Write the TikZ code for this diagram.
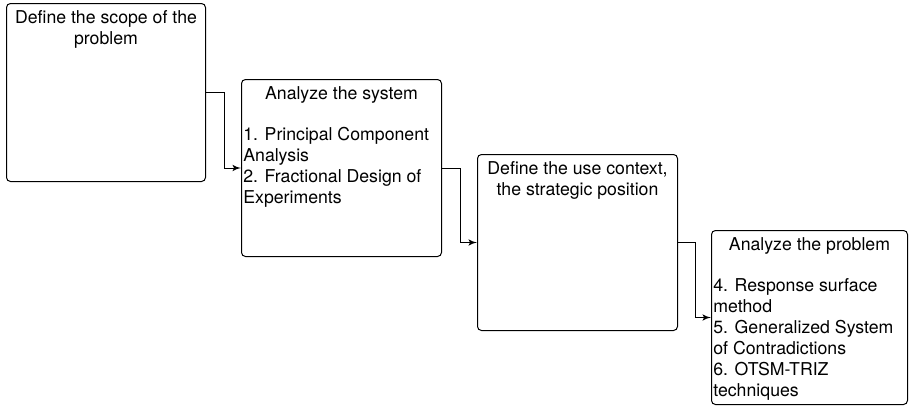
\documentclass[tikz,border=0pt]{standalone}
\usepackage{fontspec}
\setmainfont{TeX Gyre Heros}
\usetikzlibrary{arrows, positioning, calc}

\begin{document}
\begin{tikzpicture}[
    x=0.5pt, y=-0.5pt,
    stagebox/.style={rectangle, draw, line width=0.5pt, rounded corners=2pt, minimum width=100pt, minimum height=88.5pt, anchor=north west, inner sep=0pt},
    title/.style={anchor=north, align=center, inner sep=0pt, yshift=-2.45pt, font=\fontsize{8.85}{10.5}\selectfont},
    steps/.style={anchor=north west, align=left, inner sep=0pt, xshift=1pt, yshift=-22.95pt, font=\fontsize{8.85}{10.5}\selectfont},
    arrow/.style={-latex', line width=0.5pt}
]
    \useasboundingbox (0,0) rectangle (912,408);

    % Stages
    \node [stagebox, minimum width=99.5pt, minimum height=89pt] (scope) at (6, 3) {};
    \node [stagebox] (system) at (241, 79) {};
    \node [stagebox, minimum height=88pt] (context) at (477, 154) {};
    \node [stagebox, minimum width=98pt, minimum height=87pt] (problem) at (711, 230) {};

    % Texts
    \node [title] (scopetitle) at (scope.north) {\strut Define the scope of the\\problem};
    \node [title] (systemtitle) at (system.north) {\strut Analyze the system};
    \node [steps] (systemsteps) at (system.north west) {\strut 1. Principal Component\\Analysis\\2. Fractional Design of\\Experiments};
    \node [title] (contexttitle) at (context.north) {\strut Define the use context,\\the strategic position};
    \node [title] (problemtitle) at (problem.north) {\strut Analyze the problem};
    \node [steps] (problemsteps) at (problem.north west) {\strut 4. Response surface\\method\\5. Generalized System\\of Contradictions\\6. OTSM-TRIZ\\techniques};

    % Connections
    \draw [arrow] (scope.east) -- ++(18, 0) |- (system.west);
    \draw [arrow] (system.east) -- ++(18, 0) |- (context.west);
    \draw [arrow] (context.east) -- ++(17, 0) |- (problem.west);
\end{tikzpicture}
\end{document}
